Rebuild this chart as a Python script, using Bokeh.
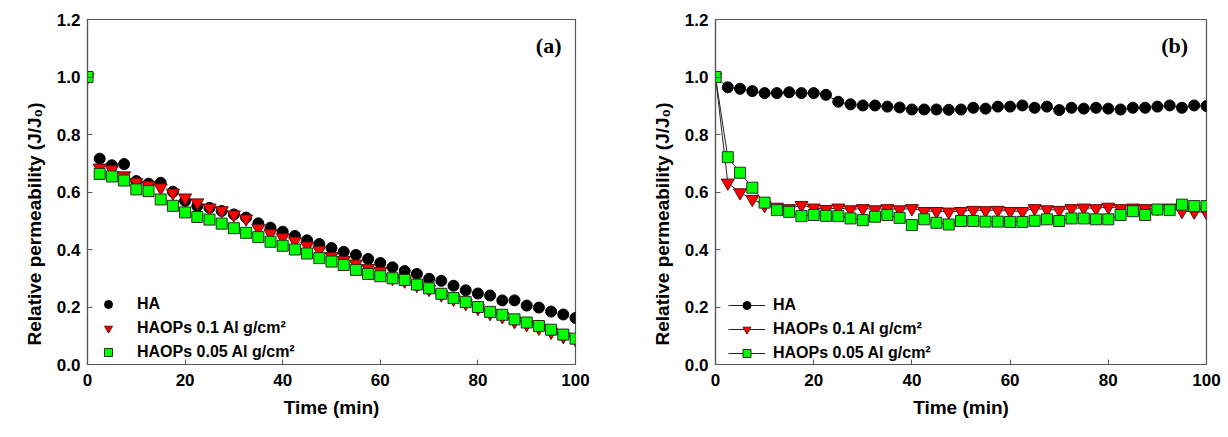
from bokeh.plotting import figure
from bokeh.layouts import row
from bokeh.models import (Range1d, FixedTicker, PrintfTickFormatter, Legend,
                          LegendItem, Label, ColumnDataSource, Title)
from bokeh.embed import file_html
from bokeh.resources import INLINE

time_min = [0, 2.5, 5, 7.5, 10, 12.5, 15, 17.5, 20, 22.5, 25, 27.5, 30, 32.5, 35,
            37.5, 40, 42.5, 45, 47.5, 50, 52.5, 55, 57.5, 60, 62.5, 65, 67.5, 70,
            72.5, 75, 77.5, 80, 82.5, 85, 87.5, 90, 92.5, 95, 97.5, 100]

# Panel (a)
a_ha = [1.0, 0.716, 0.693, 0.697, 0.638, 0.629, 0.632, 0.601, 0.569, 0.551, 0.545,
        0.534, 0.522, 0.511, 0.491, 0.476, 0.462, 0.447, 0.432, 0.419, 0.405, 0.392,
        0.381, 0.367, 0.353, 0.338, 0.325, 0.315, 0.298, 0.291, 0.274, 0.258, 0.247,
        0.240, 0.223, 0.223, 0.205, 0.198, 0.184, 0.174, 0.162]
a_haops_01 = [1.0, 0.684, 0.678, 0.657, 0.634, 0.624, 0.615, 0.597, 0.580, 0.563, 0.545,
              0.536, 0.521, 0.507, 0.474, 0.456, 0.442, 0.430, 0.413, 0.398, 0.376, 0.363,
              0.350, 0.335, 0.325, 0.300, 0.291, 0.276, 0.262, 0.243, 0.228, 0.213, 0.196,
              0.178, 0.167, 0.150, 0.140, 0.127, 0.113, 0.098, 0.087]
a_haops_005 = [1.0, 0.663, 0.654, 0.640, 0.609, 0.603, 0.574, 0.552, 0.529, 0.513, 0.504,
               0.490, 0.474, 0.458, 0.443, 0.427, 0.413, 0.400, 0.386, 0.370, 0.358, 0.346,
               0.329, 0.315, 0.307, 0.300, 0.294, 0.278, 0.265, 0.246, 0.231, 0.217, 0.200,
               0.183, 0.173, 0.157, 0.146, 0.134, 0.121, 0.104, 0.090]

# Panel (b)
b_ha = [1.0, 0.964, 0.959, 0.951, 0.944, 0.944, 0.947, 0.944, 0.944, 0.938, 0.914,
        0.905, 0.901, 0.901, 0.897, 0.894, 0.887, 0.887, 0.887, 0.886, 0.887, 0.893,
        0.890, 0.897, 0.897, 0.901, 0.893, 0.897, 0.885, 0.893, 0.890, 0.893, 0.890,
        0.887, 0.893, 0.893, 0.897, 0.901, 0.893, 0.901, 0.899]
b_haops_01 = [1.0, 0.632, 0.598, 0.575, 0.554, 0.548, 0.543, 0.554, 0.545, 0.540, 0.545,
              0.539, 0.543, 0.539, 0.543, 0.539, 0.543, 0.533, 0.533, 0.531, 0.533, 0.537,
              0.536, 0.537, 0.533, 0.533, 0.543, 0.539, 0.537, 0.543, 0.545, 0.543, 0.548,
              0.543, 0.545, 0.543, 0.543, 0.545, 0.533, 0.531, 0.529]
b_haops_005 = [1.0, 0.721, 0.667, 0.615, 0.563, 0.537, 0.531, 0.516, 0.520, 0.517, 0.516,
               0.508, 0.502, 0.514, 0.520, 0.510, 0.485, 0.505, 0.493, 0.487, 0.499, 0.499,
               0.497, 0.497, 0.496, 0.496, 0.500, 0.505, 0.499, 0.508, 0.508, 0.505, 0.505,
               0.520, 0.533, 0.520, 0.539, 0.537, 0.556, 0.551, 0.551]

series_labels = ["HA", "HAOPs 0.1 Al g/cm\u00b2", "HAOPs 0.05 Al g/cm\u00b2"]
x_ticks = [0, 20, 40, 60, 80, 100]
y_ticks = [0.0, 0.2, 0.4, 0.6, 0.8, 1.0, 1.2]
x_title = "Time (min)"
y_title = "Relative permeability (J/J\u2080)"

FONT = "Liberation Sans"
AX = "#555555"


def make_fig(left, right, top, bottom):
    p = figure(width=614, height=437, output_backend="svg", toolbar_location=None,
               x_range=Range1d(0, 100), y_range=Range1d(0, 1.2),
               min_border_left=left, min_border_right=right,
               min_border_top=top, min_border_bottom=bottom)
    p.xgrid.visible = False
    p.ygrid.visible = False
    p.outline_line_color = AX
    p.outline_line_width = 1.2
    p.background_fill_color = "white"
    p.border_fill_color = "white"
    for ax in (p.xaxis[0], p.yaxis[0]):
        ax.major_tick_in = 5
        ax.major_tick_out = 0
        ax.minor_tick_line_color = None
        ax.axis_line_color = AX
        ax.axis_line_width = 1.2
        ax.major_tick_line_color = AX
        ax.major_label_text_font = FONT
        ax.major_label_text_font_style = "bold"
        ax.major_label_text_font_size = "17px"
        ax.major_label_text_color = "black"
        ax.axis_label_text_font = FONT
        ax.axis_label_text_font_style = "bold"
        ax.axis_label_text_font_size = "19px"
        ax.axis_label_text_color = "black"
    p.xaxis[0].ticker = FixedTicker(ticks=x_ticks)
    p.yaxis[0].ticker = FixedTicker(ticks=y_ticks)
    p.yaxis[0].formatter = PrintfTickFormatter(format="%.1f")
    p.xaxis[0].axis_label = x_title
    p.xaxis[0].major_label_standoff = 9
    p.yaxis[0].major_label_standoff = 7
    p.xaxis[0].axis_label_standoff = 8
    # rotated y-axis title placed in the left panel
    p.add_layout(Title(text=y_title, align="left", offset=19, standoff=14,
                       vertical_align="top",
                       text_font=FONT, text_font_style="bold", text_font_size="19px",
                       text_color="black"), "left")
    return p


def add_series(p, ys_list, with_lines):
    styles = [
        dict(marker="circle", size=11, fill_color="black", line_color="black"),
        dict(marker="inverted_triangle", size=13, fill_color="#ff0000", line_color="#5a1010"),
        dict(marker="square", size=11, fill_color="#00ff00", line_color="#2a2a2a"),
    ]
    items = []
    for ys, st, lab in zip(ys_list, styles, series_labels):
        src = ColumnDataSource(dict(t=time_min, v=ys))
        rends = []
        if with_lines:
            rends.append(p.line("t", "v", source=src, line_color="#222222", line_width=1))
        rends.append(p.scatter("t", "v", source=src, line_width=1, **st))
        items.append(LegendItem(label=lab, renderers=rends))
    return items


def add_legend(p, items, loc, glyph_w, standoff):
    leg = Legend(items=items, location=loc, glyph_width=glyph_w, glyph_height=20,
                 label_height=20, label_standoff=standoff, spacing=4, padding=0,
                 margin=0, border_line_alpha=0, background_fill_alpha=0,
                 label_text_font=FONT, label_text_font_style="bold",
                 label_text_font_size="16px", label_text_color="black")
    p.add_layout(leg)


pa = make_fig(87, 39, 19, 71)
items_a = add_series(pa, [a_ha, a_haops_01, a_haops_005], with_lines=False)
add_legend(pa, items_a, (11, 2), 20, 19)
pa.add_layout(Label(x=94.5, y=1.11, text="(a)", text_font="Liberation Serif",
                    text_font_style="bold", text_font_size="22px",
                    text_align="center", text_baseline="middle", text_color="black"))

pb = make_fig(101, 22, 16, 73)
items_b = add_series(pb, [b_ha, b_haops_01, b_haops_005], with_lines=True)
add_legend(pb, items_b, (13, 1), 37, 8)
pb.add_layout(Label(x=93.5, y=1.11, text="(b)", text_font="Liberation Serif",
                    text_font_style="bold", text_font_size="22px",
                    text_align="center", text_baseline="middle", text_color="black"))

layout = row(pa, pb)
open("out.html", "w").write(file_html(layout, INLINE))
